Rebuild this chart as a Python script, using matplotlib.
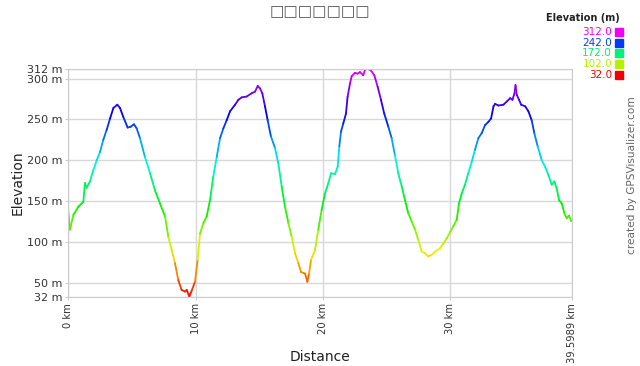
#
# Elevation profile, coloured by elevation (GPS Visualizer style)
#
import numpy as np
import matplotlib
matplotlib.use('Agg')
import matplotlib.pyplot as plt
from matplotlib.collections import LineCollection
from matplotlib.colors import hsv_to_rgb

# distance along the track (km) and elevation (m)
distance_km = [0.0, 0.13, 0.4, 0.79, 1.18, 1.31, 1.44, 1.7, 1.97, 2.23, 2.49, 2.75, 3.01,
               3.28, 3.54, 3.85, 4.06, 4.32, 4.66, 4.9, 5.16, 5.37, 5.63, 6.02, 6.42,
               6.81, 7.2, 7.6, 7.86, 8.12, 8.38, 8.64, 8.9, 9.17, 9.3, 9.51, 9.69,
               9.95, 10.16, 10.35, 10.61, 10.87, 11.13, 11.39, 11.66, 11.92, 12.18,
               12.44, 12.71, 13.1, 13.36, 13.62, 14.01, 14.4, 14.67, 14.88, 15.06,
               15.24, 15.45, 15.66, 15.92, 16.24, 16.5, 16.76, 17.02, 17.29, 17.55,
               17.81, 18.07, 18.28, 18.6, 18.78, 18.91, 19.07, 19.38, 19.64, 19.9,
               20.16, 20.43, 20.64, 20.95, 21.16, 21.29, 21.42, 21.6, 21.81, 21.94,
               22.13, 22.26, 22.52, 22.73, 22.91, 23.17, 23.3, 23.51, 23.77, 24.04,
               24.3, 24.56, 24.82, 25.14, 25.4, 25.66, 25.92, 26.19, 26.45, 26.71,
               26.97, 27.24, 27.5, 27.76, 28.02, 28.28, 28.55, 28.81, 29.2, 29.46,
               29.72, 30.0, 30.24, 30.51, 30.69, 30.9, 31.16, 31.42, 31.69, 31.95,
               32.21, 32.47, 32.74, 33.0, 33.21, 33.4, 33.53, 33.79, 34.18, 34.45,
               34.71, 34.89, 35.05, 35.13, 35.23, 35.41, 35.57, 35.89, 36.14, 36.4,
               36.61, 36.87, 37.19, 37.45, 37.71, 37.97, 38.18, 38.36, 38.55, 38.76,
               38.97, 39.15, 39.33, 39.49, 39.5989]
elevation_m = [138, 115, 133, 143, 149, 172, 166, 174, 188, 200, 210, 225, 237,
               251, 264, 268, 264, 253, 240, 241, 244, 239, 227, 204, 184,
               163, 147, 131, 106, 90, 74, 53, 41, 39, 41, 33, 40,
               51, 78, 110, 123, 131, 151, 180, 204, 227, 239,
               249, 260, 268, 274, 277, 278, 282, 284, 291, 288,
               282, 266, 249, 229, 215, 196, 168, 143, 123, 106,
               86, 74, 63, 61, 51, 61, 78, 90, 115, 139,
               159, 172, 184, 183, 192, 217, 235, 245, 257, 278,
               294, 303, 307, 306, 308, 304, 311, 312, 310, 304,
               290, 274, 257, 241, 227, 206, 184, 168, 151, 135,
               125, 115, 102, 88, 86, 82, 84, 88, 92, 98,
               104, 112, 119, 127, 147, 159, 170, 184, 198, 213,
               227, 233, 243, 247, 251, 266, 269, 267, 268, 272,
               276, 274, 282, 292, 280, 274, 268, 266, 260, 249,
               233, 217, 200, 192, 182, 170, 174, 166, 151, 147,
               135, 129, 132, 126, 126]

y_ticks = [32, 50, 100, 150, 200, 250, 300, 312]
x_ticks = [0, 10, 20, 30, 39.5989]
x_tick_labels = ['0 km', '10 km', '20 km', '30 km', '39.5989 km']
legend_values = [312.0, 242.0, 172.0, 102.0, 32.0]

e_min, e_max = 32.0, 312.0


def elev_color(e):
    # red (low) -> yellow -> green -> cyan -> blue -> magenta (high)
    h = np.clip((e - e_min) / (e_max - e_min), 0, 1) * 300.0 / 360.0
    return hsv_to_rgb([h, 1.0, 0.95])


fig = plt.figure(figsize=(6.4, 3.66), dpi=100)
ax = fig.add_axes([68.3 / 640, 1 - 297.3 / 366, (572.4 - 68.3) / 640, (297.3 - 68.8) / 366])

x = np.array(distance_km)
y = np.array(elevation_m, dtype=float)
pts = np.column_stack([x, y]).reshape(-1, 1, 2)
segs = np.concatenate([pts[:-1], pts[1:]], axis=1)
cols = [elev_color((a + b) / 2) for a, b in zip(y[:-1], y[1:])]
lc = LineCollection(segs, colors=cols, linewidths=1.3, capstyle='round', joinstyle='round')
ax.add_collection(lc)

ax.set_xlim(0, 39.5989)
ax.set_ylim(e_min, e_max)
ax.set_yticks(y_ticks)
ax.set_yticklabels([f'{v} m' for v in y_ticks], fontsize=8, color='#333333')
ax.set_xticks(x_ticks)
ax.set_xticklabels(x_tick_labels, rotation=90, fontsize=7.2, color='#333333')
ax.tick_params(length=2, color='#cccccc', pad=2)
ax.grid(True, color='#d8d8d8', linewidth=1)
ax.set_axisbelow(True)
for s in ax.spines.values():
    s.set_color('#cccccc')

fig.text(18 / 640, 1 - 183 / 366, 'Elevation', rotation=90, ha='center', va='center',
         fontsize=10, color='#222222')
fig.text(320 / 640, 1 - 357 / 366, 'Distance', ha='center', va='center',
         fontsize=10, color='#222222')

fig.text(320 / 640, 1 - 12 / 366, '\u25a1' * 7, ha='center', va='center',
         fontsize=11, color='#555555')

# legend of the colour scale
fig.text(620 / 640, 1 - 18 / 366, 'Elevation (m)', ha='right', va='center',
         fontsize=7, fontweight='bold', color='#222222')
for i, v in enumerate(legend_values):
    yy = 1 - (32 + i * 10.7) / 366
    c = elev_color(v)
    fig.text(612 / 640, yy, f'{v:.1f}', ha='right', va='center', fontsize=7.5, color=c)
    fig.patches.append(plt.Rectangle((615 / 640, yy - 4 / 366), 8 / 640, 8 / 366,
                                     transform=fig.transFigure, color=c, figure=fig))

fig.text(632 / 640, 1 - 175 / 366, 'created by GPSVisualizer.com', rotation=90,
         ha='center', va='center', fontsize=7.6, color='#666666')

plt.savefig('out.png', dpi=100)
